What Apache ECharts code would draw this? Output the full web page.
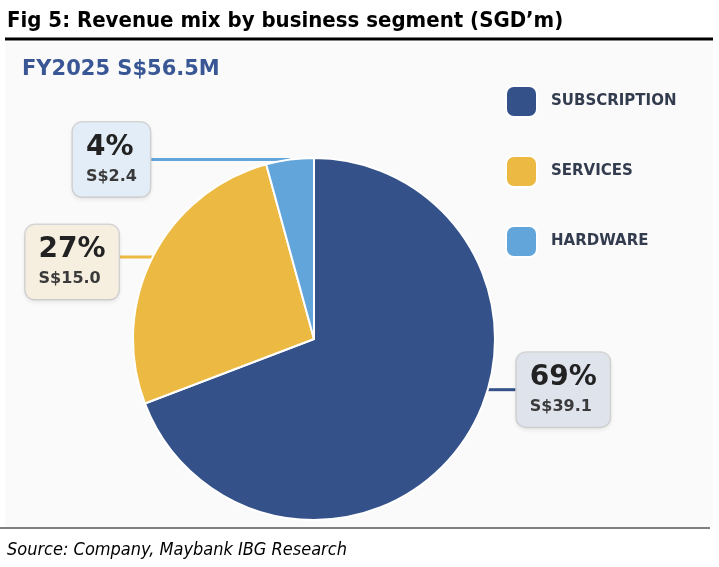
<!DOCTYPE html>
<html>
<head>
<meta charset="utf-8">
<script src="https://cdn.jsdelivr.net/npm/echarts@6/dist/echarts.min.js"></script>
<style>
  html, body { margin: 0; padding: 0; background: #fff; }
  #main { width: 719px; height: 567px; }
</style>
</head>
<body>
<div id="main"></div>
<script>
// data
const segments = ['SUBSCRIPTION', 'SERVICES', 'HARDWARE'];
const revenue = [39.1, 15.0, 2.4];
const totalLabel = 'FY2025 S$56.5M';

// styling
const sliceColors = ['#34518a', '#ecb942', '#62a5da'];
const boxColors = ['#dfe3ec', '#f6efe0', '#e2edf7'];
const CX = 314, CY = 339, R = 181;
const labelShift = [-52, 0, 0];   // vertical nudge of each connector from its slice midpoint
const boxShift = [0, 5, 0];       // extra vertical nudge of the box relative to its connector
const lineLen = [29, 34, 140];    // length of the connector from pie edge to box

const myChart = echarts.init(document.getElementById('main'));

const option = {
  backgroundColor: '#fff',
  animation: false,
  graphic: [
    { type: 'rect', shape: { x: 5, y: 42, width: 708, height: 485 }, style: { fill: '#fafafa' }, z: -10 },
    { type: 'line', shape: { x1: 5, y1: 39, x2: 713, y2: 39 }, style: { stroke: '#000', lineWidth: 3 } },
    { type: 'line', shape: { x1: 0, y1: 528, x2: 710, y2: 528 }, style: { stroke: '#000', lineWidth: 1 } }
  ],
  title: [
    {
      text: 'Fig 5: Revenue mix by business segment (SGD\u2019m)',
      left: 2, top: 5,
      textStyle: { fontFamily: 'DejaVu Sans Condensed', fontWeight: 'bold', fontSize: 22, color: '#000' }
    },
    {
      text: totalLabel,
      left: 17, top: 54,
      textStyle: { fontFamily: 'DejaVu Sans', fontWeight: 'bold', fontSize: 21, color: '#3a5795' }
    },
    {
      text: 'Source: Company, Maybank IBG Research',
      left: 2, top: 536,
      textStyle: { fontFamily: 'DejaVu Sans Condensed', fontStyle: 'italic', fontWeight: 'normal', fontSize: 18, color: '#000' }
    }
  ],
  legend: {
    orient: 'vertical',
    left: 505, top: 85,
    padding: 0,
    itemWidth: 31, itemHeight: 31, itemGap: 37,
    icon: 'roundRect',
    textStyle: { fontFamily: 'DejaVu Sans', fontWeight: 'bold', fontSize: 15, color: '#333c4e', padding: [0, 0, 0, 9] },
    data: segments
  },
  series: [
    {
      type: 'pie',
      center: [CX, CY],
      radius: R,
      startAngle: 90,
      clockwise: true,
      percentPrecision: 0,
      itemStyle: { borderColor: '#fff', borderWidth: 2 },
      label: {
        show: true,
        position: 'outside',
        formatter: '{pct|{d}%}\n{val|S${c}}',
        borderColor: '#d6d6d6',
        borderWidth: 1.5,
        borderRadius: 9,
        padding: [8, 13, 8, 13],
        shadowColor: 'rgba(0,0,0,0.06)',
        shadowBlur: 4,
        shadowOffsetY: 2,
        rich: {
          pct: { fontFamily: 'DejaVu Sans', fontWeight: 'bold', fontSize: 28, color: '#222', lineHeight: 34, align: 'left' },
          val: { fontFamily: 'DejaVu Sans', fontWeight: 'bold', fontSize: 16, color: '#3a3a3a', lineHeight: 24, align: 'left' }
        }
      },
      labelLine: { show: true, length: 10, length2: 20, lineStyle: { width: 3 } },
      labelLayout: function (p) {
        const i = p.dataIndex;
        const y0 = p.labelLinePoints[0][1] + labelShift[i];
        const dy = y0 - CY;
        const half = Math.sqrt(Math.max(R * R - dy * dy, 0));
        const right = p.labelLinePoints[0][0] >= CX;
        const xEdge = right ? CX + half : CX - half;
        const xBox = right ? xEdge + lineLen[i] : xEdge - lineLen[i];
        return {
          x: xBox, y: y0 + boxShift[i],
          align: right ? 'left' : 'right',
          verticalAlign: 'middle',
          labelLinePoints: [[xEdge, y0], [xBox, y0], [xBox, y0]]
        };
      },
      data: segments.map((name, i) => ({
        name: name,
        value: revenue[i].toFixed(1),
        itemStyle: { color: sliceColors[i] },
        label: { backgroundColor: boxColors[i] }
      }))
    }
  ]
};

myChart.setOption(option);
</script>
</body>
</html>
